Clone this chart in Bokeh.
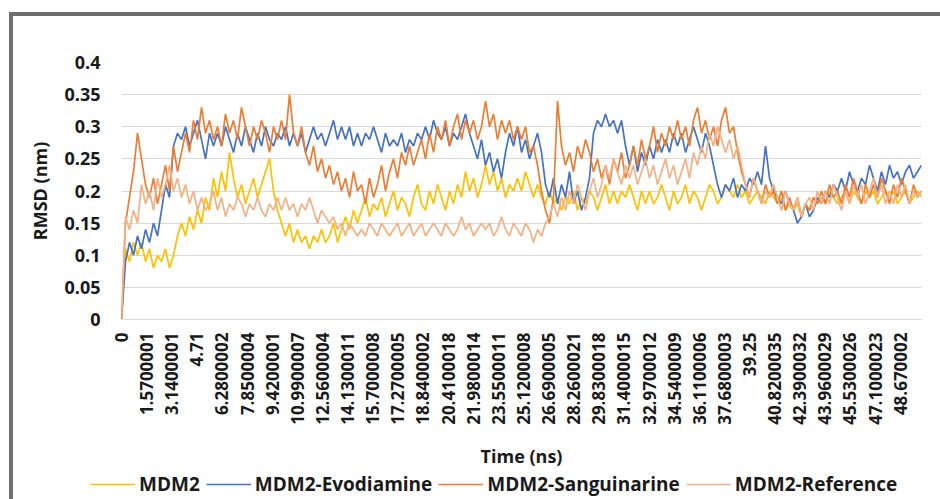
import math
from bokeh.plotting import figure
from bokeh.layouts import column
from bokeh.models import (Range1d, FixedTicker, NumeralTickFormatter, Legend,
                          LegendItem, ColumnDataSource)
from bokeh.embed import file_html
from bokeh.resources import INLINE

# ---------------- data ----------------
series_names = ["MDM2", "MDM2-Evodiamine", "MDM2-Sanguinarine", "MDM2-Reference"]
series_colors = ["#FFC000", "#4472C4", "#ED7D31", "#F4B183"]
time_step_ns = 0.25

x_tick_labels = ["0", "1.5700001", "3.1400001", "4.71", "6.2800002", "7.8500004",
                 "9.4200001", "10.9900007", "12.5600004", "14.1300011", "15.7000008",
                 "17.2700005", "18.8400002", "20.4100018", "21.9800014", "23.5500011",
                 "25.1200008", "26.6900005", "28.2600021", "29.8300018", "31.4000015",
                 "32.9700012", "34.5400009", "36.1100006", "37.6800003", "39.25",
                 "40.8200035", "42.3900032", "43.9600029", "45.5300026", "47.1000023",
                 "48.670002"]
y_tick_values = [0, 0.05, 0.1, 0.15, 0.2, 0.25, 0.3, 0.35, 0.4]

mdm2 = [
    0.0, 0.11, 0.09, 0.12, 0.10, 0.12, 0.09, 0.11, 0.08, 0.10, 0.09, 0.11, 0.08, 0.10, 0.13, 0.15, 0.13, 0.16, 0.14, 0.17,
    0.15, 0.19, 0.17, 0.22, 0.19, 0.23, 0.20, 0.26, 0.22, 0.19, 0.21, 0.18, 0.20, 0.22, 0.19, 0.21, 0.23, 0.25, 0.20, 0.17,
    0.15, 0.13, 0.15, 0.12, 0.14, 0.12, 0.13, 0.11, 0.13, 0.12, 0.14, 0.12, 0.13, 0.15, 0.12, 0.14, 0.16, 0.14, 0.17, 0.15,
    0.17, 0.19, 0.16, 0.18, 0.17, 0.19, 0.16, 0.18, 0.20, 0.17, 0.19, 0.18, 0.16, 0.19, 0.21, 0.18, 0.17, 0.20, 0.18, 0.21,
    0.19, 0.17, 0.20, 0.18, 0.21, 0.19, 0.23, 0.20, 0.22, 0.19, 0.21, 0.24, 0.21, 0.23, 0.20, 0.22, 0.19, 0.21, 0.20, 0.22,
    0.20, 0.23, 0.21, 0.19, 0.21, 0.19, 0.18, 0.20, 0.18, 0.19, 0.17, 0.19, 0.18, 0.20, 0.17, 0.19, 0.18, 0.20, 0.19, 0.17,
    0.19, 0.21, 0.18, 0.20, 0.18, 0.20, 0.19, 0.21, 0.19, 0.17, 0.20, 0.18, 0.20, 0.18, 0.19, 0.21, 0.19, 0.17, 0.20, 0.18,
    0.19, 0.21, 0.18, 0.20, 0.19, 0.17, 0.19, 0.21, 0.20, 0.18, 0.19, 0.21, 0.20, 0.19, 0.21, 0.19, 0.20, 0.18, 0.19, 0.20,
    0.19, 0.18, 0.20, 0.19, 0.18, 0.19, 0.17, 0.18, 0.17, 0.18, 0.16, 0.18, 0.17, 0.19, 0.18, 0.19, 0.18, 0.20, 0.19, 0.18,
    0.19, 0.20, 0.18, 0.20, 0.19, 0.18, 0.20, 0.19, 0.20, 0.18, 0.19, 0.20, 0.19, 0.20, 0.18, 0.19, 0.20, 0.18, 0.19, 0.20,
    0.19]

evodiamine = [
    0.0, 0.09, 0.12, 0.10, 0.13, 0.11, 0.14, 0.12, 0.15, 0.13, 0.17, 0.21, 0.19, 0.27, 0.29, 0.28, 0.30, 0.27, 0.29, 0.31,
    0.28, 0.25, 0.29, 0.27, 0.29, 0.27, 0.30, 0.28, 0.26, 0.29, 0.27, 0.30, 0.28, 0.26, 0.29, 0.27, 0.30, 0.28, 0.27, 0.29,
    0.28, 0.30, 0.27, 0.29, 0.27, 0.29, 0.26, 0.28, 0.30, 0.28, 0.29, 0.27, 0.29, 0.31, 0.28, 0.30, 0.28, 0.30, 0.27, 0.29,
    0.27, 0.29, 0.28, 0.30, 0.28, 0.26, 0.29, 0.27, 0.28, 0.27, 0.29, 0.26, 0.28, 0.27, 0.29, 0.28, 0.30, 0.28, 0.31, 0.29,
    0.28, 0.30, 0.27, 0.29, 0.28, 0.30, 0.32, 0.29, 0.27, 0.25, 0.28, 0.24, 0.26, 0.23, 0.25, 0.22, 0.26, 0.29, 0.27, 0.30,
    0.26, 0.28, 0.25, 0.27, 0.29, 0.26, 0.21, 0.19, 0.22, 0.18, 0.21, 0.19, 0.23, 0.18, 0.20, 0.17, 0.19, 0.22, 0.29, 0.31,
    0.30, 0.32, 0.30, 0.31, 0.29, 0.31, 0.27, 0.24, 0.27, 0.23, 0.26, 0.24, 0.27, 0.25, 0.28, 0.26, 0.28, 0.26, 0.29, 0.27,
    0.29, 0.26, 0.28, 0.30, 0.28, 0.26, 0.29, 0.27, 0.24, 0.21, 0.19, 0.21, 0.20, 0.22, 0.19, 0.21, 0.20, 0.22, 0.21, 0.23,
    0.21, 0.27, 0.22, 0.20, 0.19, 0.18, 0.20, 0.18, 0.17, 0.15, 0.16, 0.18, 0.16, 0.17, 0.19, 0.18, 0.20, 0.19, 0.21, 0.20,
    0.22, 0.20, 0.23, 0.21, 0.20, 0.22, 0.21, 0.24, 0.22, 0.20, 0.23, 0.21, 0.24, 0.22, 0.23, 0.21, 0.23, 0.24, 0.22, 0.23,
    0.24]

sanguinarine = [
    0.0, 0.15, 0.19, 0.23, 0.29, 0.25, 0.21, 0.19, 0.22, 0.18, 0.21, 0.24, 0.20, 0.27, 0.23, 0.26, 0.29, 0.26, 0.31, 0.28,
    0.33, 0.29, 0.31, 0.28, 0.30, 0.27, 0.32, 0.29, 0.31, 0.28, 0.33, 0.30, 0.27, 0.30, 0.28, 0.31, 0.29, 0.26, 0.30, 0.28,
    0.31, 0.28, 0.35, 0.29, 0.27, 0.30, 0.26, 0.24, 0.27, 0.23, 0.25, 0.22, 0.24, 0.21, 0.23, 0.20, 0.22, 0.19, 0.23, 0.20,
    0.21, 0.18, 0.22, 0.19, 0.21, 0.24, 0.20, 0.23, 0.25, 0.22, 0.26, 0.24, 0.27, 0.24, 0.26, 0.28, 0.25, 0.29, 0.26, 0.30,
    0.28, 0.31, 0.27, 0.30, 0.32, 0.28, 0.31, 0.29, 0.31, 0.28, 0.30, 0.34, 0.30, 0.32, 0.28, 0.31, 0.29, 0.31, 0.28, 0.30,
    0.28, 0.30, 0.26, 0.27, 0.24, 0.20, 0.17, 0.15, 0.19, 0.34, 0.27, 0.24, 0.26, 0.23, 0.27, 0.25, 0.28, 0.26, 0.23, 0.25,
    0.22, 0.24, 0.21, 0.25, 0.23, 0.26, 0.22, 0.24, 0.27, 0.24, 0.28, 0.25, 0.27, 0.30, 0.26, 0.29, 0.27, 0.30, 0.28, 0.31,
    0.28, 0.30, 0.27, 0.31, 0.33, 0.29, 0.31, 0.28, 0.30, 0.27, 0.31, 0.33, 0.29, 0.30, 0.26, 0.23, 0.21, 0.19, 0.22, 0.20,
    0.18, 0.21, 0.19, 0.20, 0.18, 0.20, 0.17, 0.19, 0.17, 0.19, 0.16, 0.18, 0.17, 0.19, 0.18, 0.20, 0.18, 0.21, 0.19, 0.20,
    0.18, 0.21, 0.19, 0.22, 0.20, 0.18, 0.21, 0.19, 0.21, 0.19, 0.22, 0.20, 0.18, 0.21, 0.19, 0.22, 0.20, 0.18, 0.21, 0.19,
    0.20]

reference = [
    0.0, 0.16, 0.14, 0.17, 0.15, 0.21, 0.18, 0.20, 0.17, 0.22, 0.19, 0.21, 0.24, 0.20, 0.22, 0.19, 0.21, 0.18, 0.20, 0.17,
    0.19, 0.17, 0.18, 0.20, 0.17, 0.19, 0.16, 0.18, 0.17, 0.19, 0.18, 0.16, 0.18, 0.17, 0.19, 0.17, 0.16, 0.18, 0.17, 0.19,
    0.17, 0.19, 0.17, 0.18, 0.16, 0.18, 0.17, 0.19, 0.17, 0.15, 0.17, 0.16, 0.15, 0.16, 0.14, 0.15, 0.13, 0.15, 0.14, 0.13,
    0.14, 0.13, 0.15, 0.14, 0.13, 0.15, 0.14, 0.13, 0.14, 0.15, 0.13, 0.14, 0.15, 0.13, 0.14, 0.15, 0.13, 0.14, 0.15, 0.14,
    0.13, 0.15, 0.14, 0.13, 0.14, 0.16, 0.14, 0.15, 0.13, 0.14, 0.15, 0.14, 0.15, 0.13, 0.14, 0.16, 0.14, 0.13, 0.15, 0.14,
    0.13, 0.15, 0.14, 0.12, 0.14, 0.13, 0.15, 0.16, 0.18, 0.16, 0.19, 0.17, 0.20, 0.18, 0.21, 0.19, 0.17, 0.20, 0.22, 0.19,
    0.21, 0.24, 0.22, 0.25, 0.23, 0.21, 0.24, 0.22, 0.24, 0.21, 0.23, 0.25, 0.22, 0.24, 0.21, 0.23, 0.25, 0.22, 0.24, 0.21,
    0.23, 0.25, 0.22, 0.26, 0.24, 0.27, 0.25, 0.29, 0.27, 0.30, 0.28, 0.26, 0.28, 0.25, 0.27, 0.24, 0.21, 0.19, 0.22, 0.20,
    0.18, 0.20, 0.19, 0.21, 0.19, 0.17, 0.20, 0.18, 0.17, 0.19, 0.16, 0.18, 0.19, 0.17, 0.20, 0.18, 0.20, 0.18, 0.21, 0.19,
    0.17, 0.20, 0.18, 0.21, 0.19, 0.21, 0.18, 0.20, 0.22, 0.19, 0.21, 0.18, 0.20, 0.18, 0.21, 0.19, 0.21, 0.18, 0.20, 0.19,
    0.20]

series_values = [mdm2, evodiamine, sanguinarine, reference]

# ---------------- main chart ----------------
FONT = "Open Sans"
TXT = "#1a1a1a"

p = figure(width=927, height=456, x_range=Range1d(0, 50), y_range=Range1d(0, 0.4),
           output_backend="svg", toolbar_location=None,
           min_border_left=108, min_border_right=19, min_border_top=46, min_border_bottom=153,
           background_fill_color="white", border_fill_color="white")
p.frame_align = False
p.outline_line_color = None
p.xgrid.visible = False
p.ygrid.grid_line_color = "#D9D9D9"
p.ygrid.grid_line_width = 1

# y axis
p.yaxis.ticker = FixedTicker(ticks=y_tick_values)
p.yaxis.formatter = NumeralTickFormatter(format="0.[00]")
p.yaxis.axis_line_color = None
p.yaxis.major_tick_line_color = None
p.yaxis.minor_tick_line_color = None
p.yaxis.major_tick_out = 0
p.yaxis.major_tick_in = 0
p.yaxis.major_label_standoff = 21
p.yaxis.major_label_text_font = FONT
p.yaxis.major_label_text_font_style = "bold"
p.yaxis.major_label_text_font_size = "18px"
p.yaxis.major_label_text_color = TXT
p.yaxis.axis_label = "RMSD (nm)"
p.yaxis.axis_label_text_font = FONT
p.yaxis.axis_label_text_font_style = "bold"
p.yaxis.axis_label_text_font_size = "18px"
p.yaxis.axis_label_text_color = TXT
p.yaxis.axis_label_standoff = 9

# x axis
x_tick_values = [float(s) for s in x_tick_labels]
p.xaxis.ticker = FixedTicker(ticks=x_tick_values)
p.xaxis.major_label_overrides = dict(zip(x_tick_values, x_tick_labels))
p.xaxis.major_label_orientation = math.pi / 2
p.xaxis.axis_line_color = "#D9D9D9"
p.xaxis.major_tick_line_color = None
p.xaxis.minor_tick_line_color = None
p.xaxis.major_tick_out = 0
p.xaxis.major_tick_in = 0
p.xaxis.major_label_standoff = 13
p.xaxis.major_label_text_font = FONT
p.xaxis.major_label_text_font_style = "bold"
p.xaxis.major_label_text_font_size = "17px"
p.xaxis.major_label_text_color = TXT
p.xaxis.axis_label = "Time (ns)"
p.xaxis.axis_label_text_font = FONT
p.xaxis.axis_label_text_font_style = "bold"
p.xaxis.axis_label_text_font_size = "18px"
p.xaxis.axis_label_text_color = TXT
p.xaxis.axis_label_standoff = 16

sources = []
for name, color, vals in zip(series_names, series_colors, series_values):
    src = ColumnDataSource(data=dict(t=[i * time_step_ns for i in range(len(vals))], v=vals))
    sources.append(src)
    p.line("t", "v", source=src, line_color=color, line_width=1.7)

# ---------------- legend strip (same series, legend only) ----------------
q = figure(width=927, height=27, x_range=Range1d(-20, -10), y_range=Range1d(0, 0.4),
           output_backend="svg", toolbar_location=None, x_axis_type=None, y_axis_type=None,
           min_border=0, min_border_left=0, min_border_right=0, min_border_top=0, min_border_bottom=0,
           background_fill_color="white", border_fill_color="white")
q.frame_align = False
q.outline_line_color = None
q.grid.visible = False
leg_renderers = []
for name, color, src in zip(series_names, series_colors, sources):
    leg_renderers.append(q.line("t", "v", source=src, line_color=color, line_width=1.6))

legend = Legend(items=[LegendItem(label=n, renderers=[r]) for n, r in zip(series_names, leg_renderers)],
                orientation="horizontal", location=(77, 2),
                border_line_color=None, background_fill_alpha=0,
                padding=0, margin=0, spacing=6, label_standoff=4,
                glyph_width=45, glyph_height=20, label_height=20,
                label_text_font=FONT, label_text_font_style="bold",
                label_text_font_size="19px", label_text_color=TXT)
q.add_layout(legend)

layout = column(p, q, spacing=0,
                styles={"margin-left": "9px", "margin-top": "12px",
                        "border-left": "4px solid #6e6e6e", "border-top": "4px solid #6e6e6e",
                        "background-color": "white"})

open("out.html", "w").write(file_html(layout, INLINE))
